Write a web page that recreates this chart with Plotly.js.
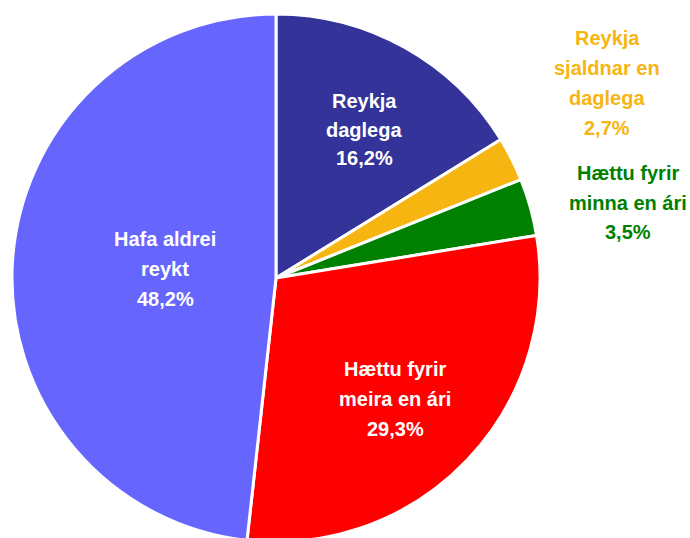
<!DOCTYPE html>
<html>
<head>
<meta charset="utf-8">
<script src="https://cdn.plot.ly/plotly-3.0.1.min.js"></script>
<style>
html,body{margin:0;padding:0;overflow:hidden;background:#fff;}
#chart{width:690px;height:543px;}
</style>
</head>
<body>
<div id="chart"></div>
<script>
// Data
const labels = ["Reykja daglega", "Reykja sjaldnar en daglega", "Hættu fyrir minna en ári", "Hættu fyrir meira en ári", "Hafa aldrei reykt"];
const values = [16.2, 2.7, 3.5, 29.3, 48.2];
const labelLines = [["Reykja", "daglega"], ["Reykja", "sjaldnar en", "daglega"], ["Hættu fyrir", "minna en ári"], ["Hættu fyrir", "meira en ári"], ["Hafa aldrei", "reykt"]];

// Styles
const colors = ["#333399", "#F7B511", "#008000", "#FF0000", "#6666FF"];
const textColors = ["#FFFFFF", "#F7B511", "#008000", "#FFFFFF", "#FFFFFF"];
// label block: [x centre, y of first line centre, line spacing] in pixels
const labelPos = [[364, 100, 28.5], [607, 37, 30], [628, 172, 29.5], [395, 368, 30], [165, 238, 30]];

const W = 690, H = 543;
const fontFam = "'Liberation Sans', Arial, sans-serif";

const annotations = [];
labels.forEach((l, i) => {
  const lines = labelLines[i].concat([values[i].toFixed(1).replace('.', ',') + '%']);
  lines.forEach((t, k) => {
    const py = labelPos[i][1] + k * labelPos[i][2] + 1;
    annotations.push({
      x: labelPos[i][0] / W,
      y: 1 - py / H,
      xref: 'paper', yref: 'paper',
      xanchor: 'center', yanchor: 'middle',
      showarrow: false,
      align: 'center',
      text: '<b>' + t + '</b>',
      font: {family: fontFam, size: 20, color: textColors[i]}
    });
  });
});

const trace = {
  type: 'pie',
  labels: labels,
  values: values,
  sort: false,
  direction: 'clockwise',
  rotation: 0,
  marker: {colors: colors, line: {color: '#FFFFFF', width: 3}},
  textinfo: 'none',
  hoverinfo: 'label+percent',
  domain: {x: [12 / W, 540 / W], y: [1 / H, 1 - 14 / H]}
};

const layout = {
  width: W, height: H,
  margin: {l: 0, r: 0, t: 0, b: 0},
  showlegend: false,
  paper_bgcolor: '#FFFFFF',
  annotations: annotations
};

Plotly.newPlot('chart', [trace], layout, {staticPlot: true, displayModeBar: false});
</script>
</body>
</html>
